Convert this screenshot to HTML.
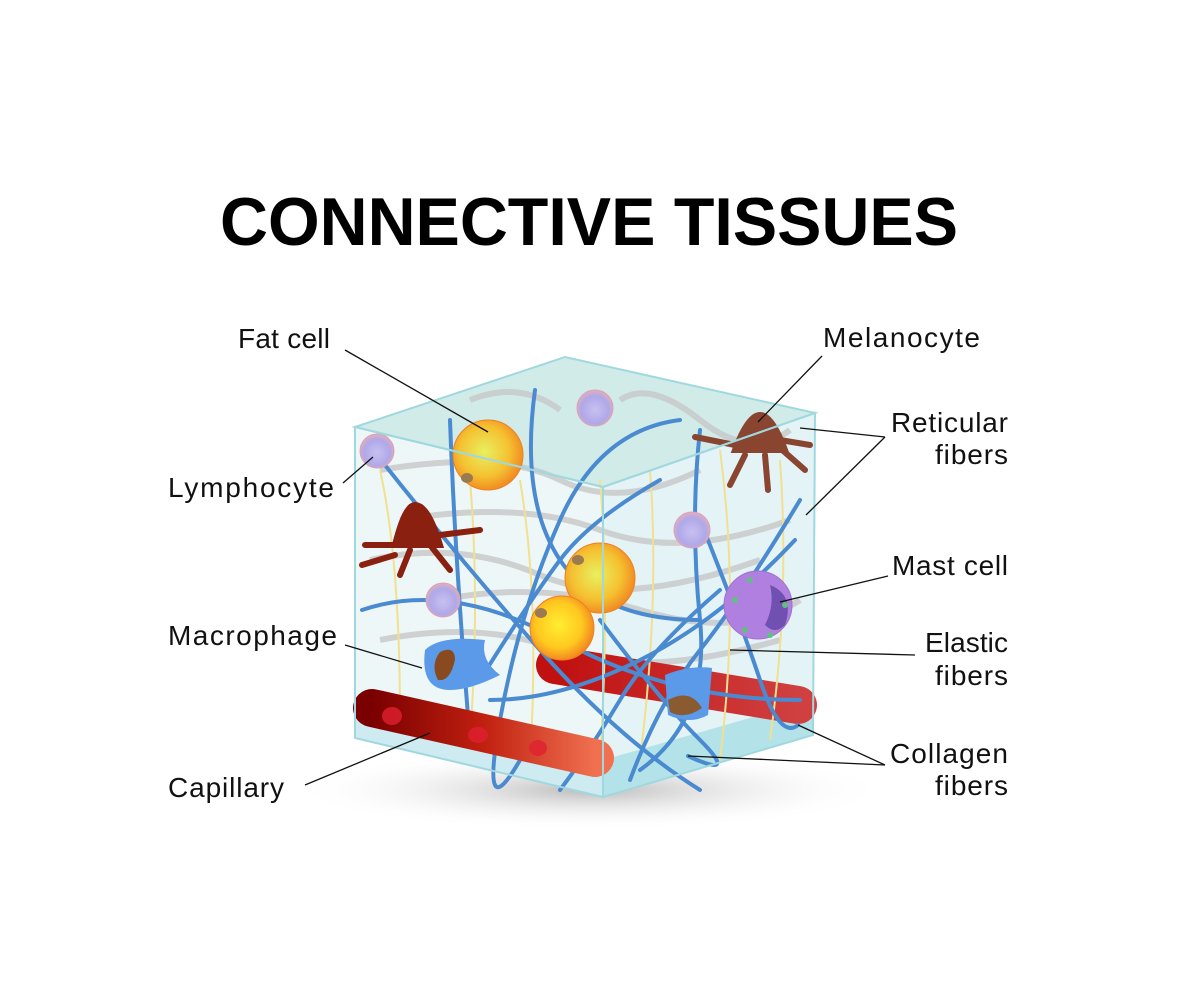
<!DOCTYPE html>
<html><head><meta charset="utf-8"><style>
html,body{margin:0;padding:0;background:#fff;}
svg{display:block;}
text{font-family:"Liberation Sans",sans-serif;}
</style></head><body>
<svg width="1200" height="1000" viewBox="0 0 1200 1000" xmlns="http://www.w3.org/2000/svg">
<defs>
<radialGradient id="fat" cx="0.45" cy="0.45" r="0.6"><stop offset="0" stop-color="#e8f060"/><stop offset="0.6" stop-color="#f5c030"/><stop offset="1" stop-color="#f08020"/></radialGradient>
<radialGradient id="fat2" cx="0.45" cy="0.45" r="0.6"><stop offset="0" stop-color="#ffee30"/><stop offset="0.6" stop-color="#ffc820"/><stop offset="1" stop-color="#f07a20"/></radialGradient>
<radialGradient id="lym" cx="0.5" cy="0.55" r="0.55"><stop offset="0" stop-color="#c8c0f0"/><stop offset="0.7" stop-color="#b0a8e8"/><stop offset="1" stop-color="#e0b0c0"/></radialGradient>
<radialGradient id="shadow" cx="0.5" cy="0.5" r="0.5"><stop offset="0" stop-color="#bbb"/><stop offset="1" stop-color="#fff" stop-opacity="0"/></radialGradient>
<linearGradient id="cap" x1="0" y1="0" x2="1" y2="0"><stop offset="0" stop-color="#7a0000"/><stop offset="0.5" stop-color="#c02010"/><stop offset="1" stop-color="#f07050"/></linearGradient>
<linearGradient id="cap2" x1="0" y1="0" x2="1" y2="0"><stop offset="0" stop-color="#c01010"/><stop offset="1" stop-color="#d04040"/></linearGradient>
</defs>
<text x="589" y="245" font-size="68" font-weight="bold" text-anchor="middle" textLength="738" lengthAdjust="spacingAndGlyphs">CONNECTIVE TISSUES</text>

<ellipse cx="590" cy="790" rx="300" ry="40" fill="url(#shadow)"/>
<polygon points="355,427 565,357 815,413 603,487" fill="#c8e8e4" opacity="0.85"/>
<polygon points="355,427 603,487 603,797 355,738" fill="#eef7f8"/>
<polygon points="603,487 815,413 813,735 603,797" fill="#e4f3f6"/>
<polygon points="355,700 603,760 603,797 355,738" fill="#bfe6ec" opacity="0.7"/>
<polygon points="603,760 813,700 813,735 603,797" fill="#a8dde6" opacity="0.8"/>
<g stroke="#c8c8c8" stroke-width="6" fill="none" opacity="0.8">
<path d="M380,470 Q500,450 560,480 T700,470"/><path d="M370,560 Q460,540 540,575 T760,560"/>
<path d="M380,640 Q480,620 560,650 T780,640"/><path d="M400,520 Q520,500 600,530 T790,520"/>
<path d="M440,600 Q540,580 640,610 T800,600"/><path d="M620,400 Q650,380 700,420 T790,430"/>
<path d="M470,400 Q520,380 560,410"/>
</g>
<path d="M555,665 L798,705" stroke="url(#cap2)" stroke-width="38" stroke-linecap="round"/>
<g stroke="#f0e090" stroke-width="2" fill="none">
<path d="M380,470 Q400,560 400,720"/><path d="M470,480 Q480,600 470,740"/><path d="M520,480 Q540,600 530,760"/>
<path d="M650,470 Q660,600 640,760"/><path d="M720,450 Q740,600 720,760"/><path d="M780,460 Q790,600 770,740"/>
<path d="M600,480 Q610,600 600,760"/>
</g>
<g stroke="#4a8ad0" stroke-width="4" fill="none" stroke-linecap="round">
<path d="M377,455 Q460,560 540,650 T700,790"/>
<path d="M450,420 Q455,560 470,740"/>
<path d="M535,390 Q520,500 560,560 T700,620"/>
<path d="M680,420 Q600,430 560,520 T500,720 T520,760"/>
<path d="M362,610 Q450,580 560,640 T800,700"/>
<path d="M660,480 Q590,520 560,560 T480,680"/>
<path d="M700,430 Q690,520 700,620 T640,770"/>
<path d="M800,500 Q740,600 700,650 T630,780"/>
<path d="M795,540 Q720,620 640,660 T490,700"/>
<path d="M720,590 Q650,650 620,700 T560,790"/>
<path d="M600,620 Q660,700 700,740 T688,756"/>
<path d="M700,520 Q740,620 760,680 T798,725"/>
</g>
<path d="M372,708 L595,758" stroke="url(#cap)" stroke-width="38" stroke-linecap="round"/>
<g fill="#e02030" opacity="0.8"><ellipse cx="392" cy="716" rx="10" ry="9"/><ellipse cx="478" cy="735" rx="10" ry="8"/><ellipse cx="538" cy="748" rx="9" ry="8"/></g>
<circle cx="488" cy="455" r="35" fill="url(#fat)" stroke="#f08020"/>
<circle cx="600" cy="578" r="35" fill="url(#fat)" stroke="#f08020"/>
<circle cx="562" cy="628" r="32" fill="url(#fat2)" stroke="#f08020"/>
<ellipse cx="467" cy="478" rx="6" ry="5" fill="#9a7a50"/><ellipse cx="578" cy="560" rx="6" ry="5" fill="#9a7a50"/><ellipse cx="541" cy="613" rx="6" ry="5" fill="#9a7a50"/>
<circle cx="377" cy="451" r="17" fill="url(#lym)" stroke="#e0a0b0"/>
<circle cx="595" cy="408" r="18" fill="url(#lym)" stroke="#e0a0b0"/>
<circle cx="443" cy="600" r="17" fill="url(#lym)" stroke="#e0a0b0"/>
<circle cx="692" cy="530" r="18" fill="url(#lym)" stroke="#e0a0b0"/>
<g fill="#8a2010" stroke="#8a2010" stroke-width="6" stroke-linecap="round">
<path d="M395,545 Q405,505 415,505 Q428,505 440,545 Z"/>
<path d="M395,545 L365,545 M410,550 L400,575 M430,545 L450,570 M440,535 L480,530 M395,555 L362,565" fill="none"/>
</g>
<g fill="#8a4530" stroke="#8a4530" stroke-width="6" stroke-linecap="round">
<path d="M735,450 Q748,415 760,415 Q772,415 785,450 Z"/>
<path d="M735,445 L695,437 M745,455 L730,485 M765,455 L768,490 M780,448 L805,470 M780,440 L810,445" fill="none"/>
</g>
<circle cx="758" cy="605" r="34" fill="#b080e0" stroke="#a070d0"/>
<path d="M770,585 Q795,595 785,625 Q775,635 765,625 Q775,605 770,585Z" fill="#7050b0"/>
<g fill="#60c080"><circle cx="735" cy="600" r="3"/><circle cx="750" cy="580" r="3"/><circle cx="785" cy="605" r="3"/><circle cx="770" cy="635" r="3"/><circle cx="745" cy="630" r="3"/></g>
<path d="M425,650 Q440,635 485,640 Q480,660 500,675 Q470,690 450,690 Q420,690 425,650Z" fill="#5a9ae8"/>
<path d="M440,652 Q455,645 455,660 Q450,682 438,680 Q430,665 440,652Z" fill="#8a4a20"/>
<path d="M665,675 Q690,665 712,668 L708,715 Q690,725 668,715 Z" fill="#5a9ae8"/>
<path d="M668,700 Q690,688 702,708 Q685,720 670,712Z" fill="#8a5a30"/>
<g stroke="#a0d8e0" stroke-width="2" fill="none">
<polygon points="355,427 565,357 815,413 603,487"/><polygon points="355,427 603,487 603,797 355,738"/><polygon points="603,487 815,413 813,735 603,797"/>
</g>
<g stroke="#111" stroke-width="1.3">
<line x1="345" y1="350" x2="488" y2="432"/><line x1="343" y1="483" x2="373" y2="457"/>
<line x1="345" y1="645" x2="422" y2="668"/><line x1="305" y1="785" x2="430" y2="733"/>
<line x1="822" y1="356" x2="758" y2="422"/><line x1="885" y1="437" x2="800" y2="428"/>
<line x1="885" y1="437" x2="806" y2="515"/><line x1="888" y1="576" x2="780" y2="602"/>
<line x1="915" y1="655" x2="730" y2="650"/><line x1="885" y1="765" x2="798" y2="725"/>
<line x1="885" y1="765" x2="688" y2="756"/>
</g>
<g font-size="28" fill="#111" lengthAdjust="spacingAndGlyphs">
<text x="238" y="348" textLength="92">Fat cell</text>
<text x="168" y="497" textLength="166">Lymphocyte</text>
<text x="168" y="645" textLength="169">Macrophage</text>
<text x="168" y="797" textLength="116">Capillary</text>
<text x="823" y="347" textLength="157">Melanocyte</text>
<text x="891" y="432" textLength="117">Reticular</text><text x="935" y="464" textLength="73">fibers</text>
<text x="892" y="575" textLength="116">Mast cell</text>
<text x="925" y="652" textLength="83">Elastic</text><text x="935" y="685" textLength="73">fibers</text>
<text x="890" y="763" textLength="118">Collagen</text><text x="935" y="795" textLength="73">fibers</text>
</g>
</svg>
</body></html>
